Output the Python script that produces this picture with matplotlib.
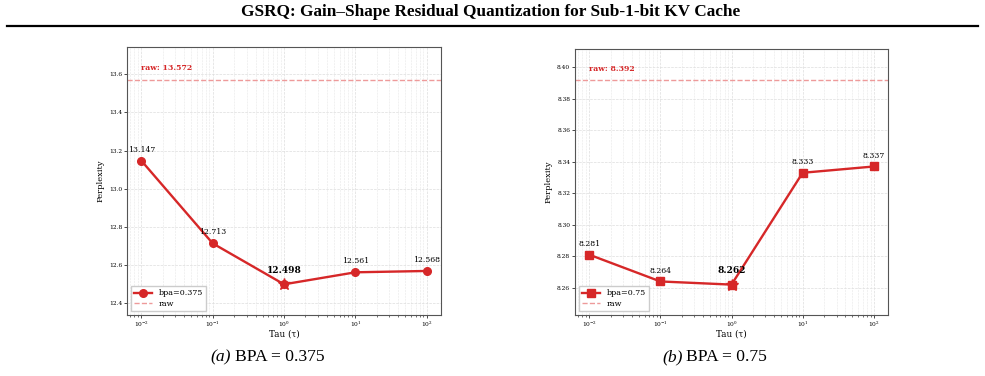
import numpy as np
import matplotlib.pyplot as plt
from matplotlib.lines import Line2D

# data
tau = [0.01, 0.1, 1, 10, 100]
ppl_a = [13.147, 12.713, 12.498, 12.561, 12.568]
ppl_b = [8.281, 8.264, 8.262, 8.333, 8.337]
raw_a = 13.572
raw_b = 8.392
labels = ['bpa=0.375', 'bpa=0.75']
captions = ['BPA = 0.375', 'BPA = 0.75']
letters = ['(a)', '(b)']

RED = '#d62728'
RAW = '#ee9a9a'
W, H = 985, 376

plt.rcParams['font.family'] = 'DejaVu Serif'
fig = plt.figure(figsize=(W / 100, H / 100), dpi=100)


def box(x0, y0, x1, y1):
    return [x0 / W, 1 - y1 / H, (x1 - x0) / W, (y1 - y0) / H]


def panel(ax, y, raw, label, marker, ylim):
    ax.plot(tau, y, color=RED, lw=1.7, marker=marker, ms=5.5, zorder=3)
    best = int(np.argmin(y))
    ax.plot(tau[best], y[best], marker='*', color=RED, ms=9, zorder=4)
    ax.axhline(raw, color=RAW, lw=1.0, ls='--', zorder=2)
    ax.set_xscale('log')
    ax.set_ylim(*ylim)
    for i, (t, v) in enumerate(zip(tau, y)):
        if i == best:
            ax.annotate(f'{v:.3f}', (t, v), xytext=(0, 7), textcoords='offset points',
                        ha='center', va='bottom', fontsize=6.5, fontweight='bold')
        else:
            ax.annotate(f'{v:.3f}', (t, v), xytext=(0, 5), textcoords='offset points',
                        ha='center', va='bottom', fontsize=5.6)
    # raw value label above the dashed line
    ax.annotate(f'raw: {raw:.3f}', (tau[0], raw), xytext=(0, 8), textcoords='offset points',
                ha='left', va='center', fontsize=5.6, fontweight='bold', color=RED)
    ax.grid(True, which='major', ls='--', lw=0.5, color='#dddddd')
    ax.grid(True, which='minor', axis='x', ls='--', lw=0.4, color='#e6e6e6')
    ax.tick_params(labelsize=4.2, length=2, width=0.5, pad=1.5)
    ax.tick_params(which='minor', length=1.2, width=0.4)
    ax.set_xlabel('Tau (τ)', fontsize=6.3, labelpad=0.5)
    ax.set_ylabel('Perplexity', fontsize=6, labelpad=3)
    for s in ax.spines.values():
        s.set_color('#555555')
        s.set_linewidth(0.8)
    handles = [Line2D([], [], color=RED, lw=1.7, marker=marker, ms=5.5),
               Line2D([], [], color=RAW, lw=1.0, ls='--')]
    ax.legend(handles, [label, 'raw'], loc='lower left', fontsize=5.8,
              handlelength=2.2, borderpad=0.4, labelspacing=0.3, framealpha=1,
              edgecolor='#cccccc', fancybox=False)


ax1 = fig.add_axes(box(127, 47, 441, 315))
panel(ax1, ppl_a, raw_a, labels[0], 'o', (12.337, 13.743))
ax2 = fig.add_axes(box(575, 49, 888, 315))
panel(ax2, ppl_b, raw_b, labels[1], 's', (8.2427, 8.4116))

serif = ['Liberation Serif', 'DejaVu Serif']
fig.text(491 / W, 1 - 12 / H, 'GSRQ: Gain–Shape Residual Quantization for Sub-1-bit KV Cache',
         ha='center', va='center', fontsize=12.4, fontweight='bold', family=serif)
fig.add_artist(Line2D([7 / W, 978 / W], [1 - 26 / H, 1 - 26 / H], color='black', lw=1.6))

# sub-captions: italic letter, upright text
for xl, xr, let, cap in zip([231, 683], [235, 686], letters, captions):
    fig.text(xl / W, 1 - 357 / H, let, ha='right', va='center', fontsize=12.6,
             family=serif, style='italic')
    fig.text(xr / W, 1 - 357 / H, cap, ha='left', va='center', fontsize=12.6, family=serif)

fig.savefig('out.png', dpi=100)
